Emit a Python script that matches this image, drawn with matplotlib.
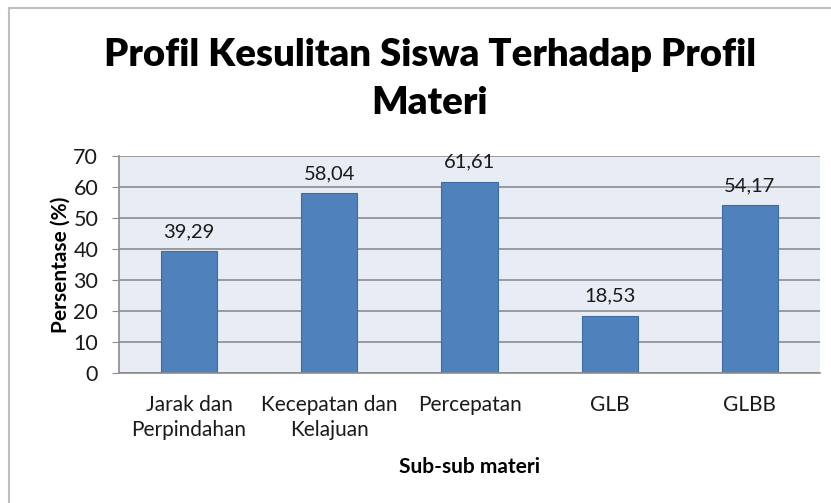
import matplotlib.pyplot as plt
from matplotlib.lines import Line2D

# data
categories = ['Jarak dan\nPerpindahan', 'Kecepatan dan\nKelajuan', 'Percepatan', 'GLB', 'GLBB']
values = [39.29, 58.04, 61.61, 18.53, 54.17]
value_labels = ['39,29', '58,04', '61,61', '18,53', '54,17']
yticks = [0, 10, 20, 30, 40, 50, 60, 70]

plt.rcParams['font.family'] = ['Lato', 'DejaVu Sans']

fig = plt.figure(figsize=(8.31, 5.03), dpi=100)
ax = fig.add_axes([119 / 831, 1 - 373 / 503, 701 / 831, 217 / 503])

x = range(len(categories))
ax.set_facecolor('#E8ECF4')
ax.set_axisbelow(True)
ax.yaxis.grid(True, color='#8C8C8C', linewidth=1.2)
ax.bar(x, values, width=0.4, color='#4F81BD', edgecolor='#3D6DA6', linewidth=0.8)

for i, (v, lab) in enumerate(zip(values, value_labels)):
    ax.text(i, v + 3.6, lab, ha='center', va='bottom', fontsize=14.5, color='#1a1a1a')

ax.set_xlim(-0.5, 4.5)
ax.set_ylim(0, 70)
ax.set_yticks(yticks)
ax.set_xticks(list(x))
ax.set_xticklabels(categories, fontsize=15, color='#1a1a1a', linespacing=1.3)
ax.tick_params(axis='y', labelsize=15.5, length=5, color='#8C8C8C', labelcolor='#1a1a1a', pad=10)
ax.tick_params(axis='x', length=0, pad=16)

for side in ['top', 'right']:
    ax.spines[side].set_visible(False)
ax.spines['left'].set_color('#8C8C8C')
ax.spines['bottom'].set_color('#8C8C8C')
ax.spines['left'].set_linewidth(1.2)
ax.spines['bottom'].set_linewidth(1.2)

ax.set_ylabel('Persentase (%)', fontsize=15, fontweight='bold', labelpad=2)
ax.set_xlabel('Sub-sub materi', fontsize=15, fontweight='bold', labelpad=12)

fig.text(430 / 831, 1 - 55 / 503, 'Profil Kesulitan Siswa Terhadap Profil', ha='center', va='center',
         fontsize=27.5, fontweight='heavy')
fig.text(430 / 831, 1 - 103 / 503, 'Materi', ha='center', va='center', fontsize=27.5, fontweight='heavy')

# chart frame (left and top edges visible)
fig.add_artist(Line2D([9 / 831, 9 / 831], [0, 1 - 8 / 503], transform=fig.transFigure, color='#BFBFBF', linewidth=1.5))
fig.add_artist(Line2D([9 / 831, 1], [1 - 8 / 503, 1 - 8 / 503], transform=fig.transFigure, color='#BFBFBF', linewidth=1.5))

fig.savefig('out.png', dpi=100)
